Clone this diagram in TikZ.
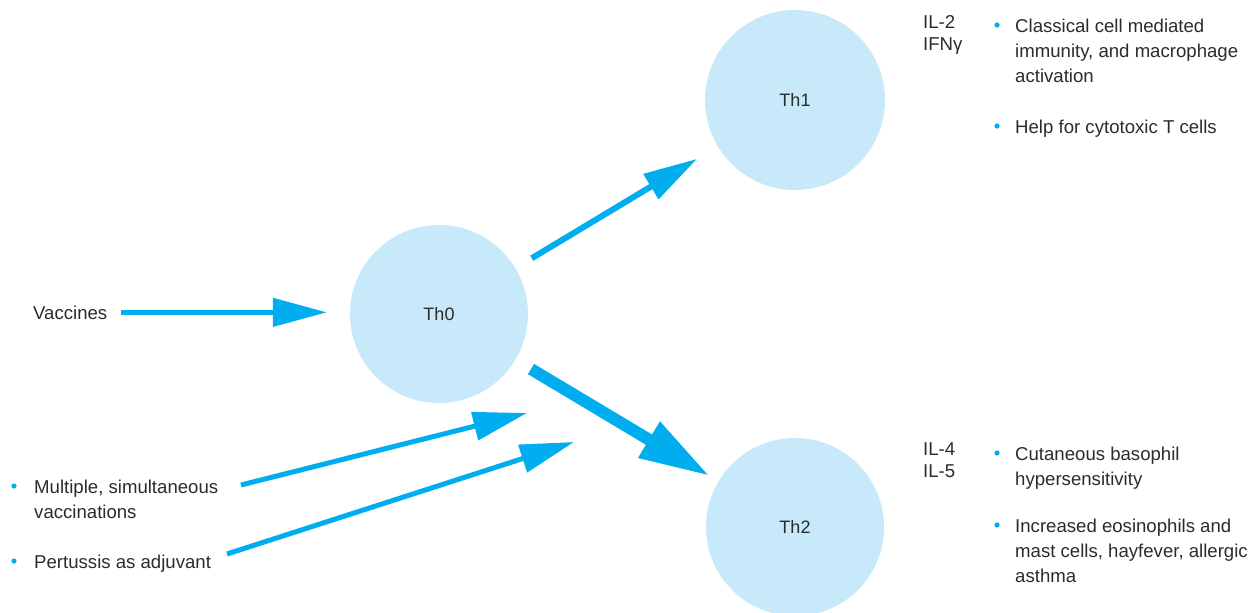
\documentclass[tikz,border=0pt]{standalone}
\usepackage{fontspec}
\setmainfont{Liberation Sans}
\usetikzlibrary{arrows.meta}
\definecolor{arrowblue}{HTML}{00AEEF}
\definecolor{cellblue}{HTML}{C8E9F9}
\definecolor{txt}{HTML}{2B2B2B}
\begin{document}
\begin{tikzpicture}[x=1pt,y=-1pt,
  cell/.style={circle, fill=cellblue, draw=none, minimum size=178pt, inner sep=0pt,
    font=\fontsize{18}{22}\selectfont, text=txt},
  lbl/.style={anchor=base west, inner sep=0pt, align=left,
    font=\fontsize{18.6}{25}\selectfont, text=txt},
  lblil/.style={lbl, font=\fontsize{18.6}{22}\selectfont},
  flow/.style={draw=arrowblue, line width=5pt, -{Triangle[length=54pt,width=28pt]}},
  bullet/.style={fill=arrowblue}
]
\clip (0,0) rectangle (1251,613);
\useasboundingbox (0,0) rectangle (1251,613);

% cells
\node[cell] (th0) at (439,314) {Th0};
\node[cell, minimum size=180pt] (th1) at (795,100) {Th1};
\node[cell] (th2) at (795,527) {Th2};

% left labels (anchored at the baseline of the last line)
\node[lbl] (vac) at (33,319) {Vaccines};
\node[lbl] (mult) at (34,518) {Multiple, simultaneous\\vaccinations};
\node[lbl] (pert) at (34,568) {Pertussis as adjuvant};
\fill[bullet] (14,486) circle (2.6pt);
\fill[bullet] (14,561) circle (2.6pt);

% right labels
\node[lblil] (il2) at (923,50) {IL-2\\IFNγ};
\node[lbl] (c1) at (1015,82) {Classical cell mediated\\immunity, and macrophage\\activation};
\node[lbl] (c2) at (1015,133) {Help for cytotoxic T cells};
\fill[bullet] (997,25) circle (2.6pt);
\fill[bullet] (997,126) circle (2.6pt);

\node[lblil] (il4) at (923,477) {IL-4\\IL-5};
\node[lbl] (c3) at (1015,485) {Cutaneous basophil\\hypersensitivity};
\node[lbl] (c4) at (1015,582) {Increased eosinophils and\\mast cells, hayfever, allergic\\asthma};
\fill[bullet] (997,453) circle (2.6pt);
\fill[bullet] (997,525) circle (2.6pt);

% arrow end points
\coordinate (mtail) at (241,485);
\coordinate (mtip) at (527,413);
\coordinate (ptail) at (227,554);
\coordinate (ptip) at (574,442);

% connectors
\draw[flow, line width=4.5pt, shorten <=14pt, shorten >=23pt] (vac.east) -- (vac.east -| th0.west);
\draw[flow, line width=6pt, shorten <=19pt, shorten >=24pt] (th0) -- (th1);
\draw[flow, line width=12pt, -{Triangle[length=71pt,width=39pt]}, shorten <=18pt, shorten >=10pt] (th0) -- (th2);
\draw[flow] (mtail) -- (mtip);
\draw[flow] (ptail) -- (ptip);
\end{tikzpicture}
\end{document}
